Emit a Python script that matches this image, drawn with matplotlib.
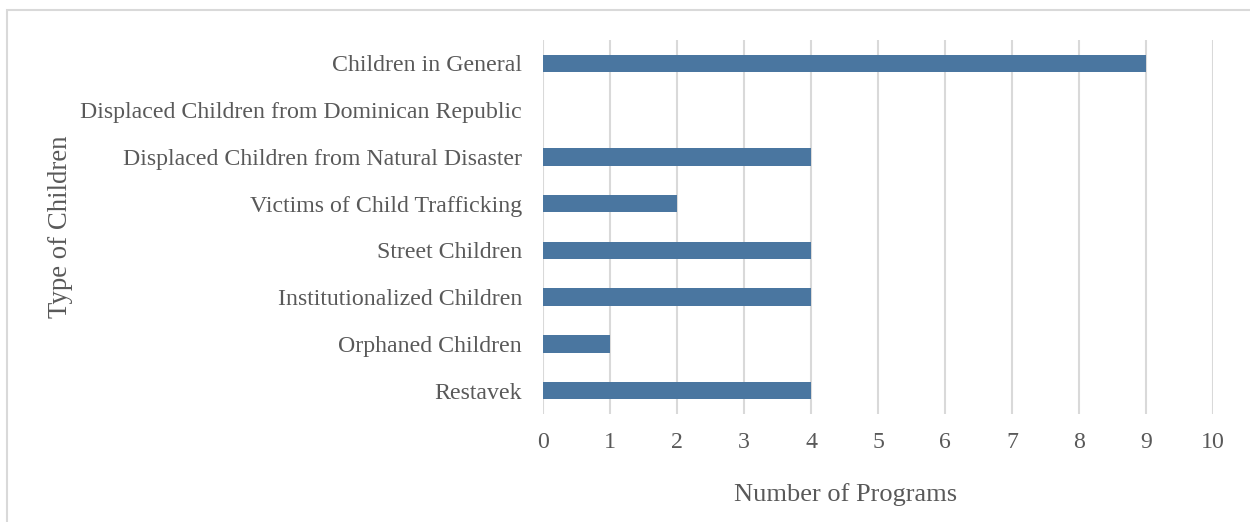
import matplotlib
matplotlib.use("Agg")
import matplotlib.pyplot as plt
from matplotlib.patches import Rectangle

categories = ["Children in General", "Displaced Children from Dominican Republic",
              "Displaced Children from Natural Disaster", "Victims of Child Trafficking",
              "Street Children", "Institutionalized Children", "Orphaned Children", "Restavek"]
values = [9, 0, 4, 2, 4, 4, 1, 4]
xticks = list(range(0, 11))

plt.rcParams['font.family'] = ['Liberation Serif', 'DejaVu Serif']

W, H = 1250, 522
fig = plt.figure(figsize=(W/100, H/100), dpi=100)
ax = fig.add_axes([543/W, 1-414/H, (1213-543)/W, (414-40)/H])

ypos = list(range(len(categories)))
ax.barh(ypos, values, height=0.37, color="#4a76a0", zorder=3)
ax.set_ylim(len(categories)-0.5, -0.5)
ax.set_xlim(0, 10)
ax.set_xticks(xticks)
ax.set_yticks(ypos)
ax.set_yticklabels(categories)
ax.grid(axis="x", color="#d9d9d9", linewidth=1.5, zorder=0)
ax.grid(axis="y", visible=False)
for s in ax.spines.values():
    s.set_visible(False)
ax.tick_params(axis="both", length=0, labelsize=17.2, labelcolor="#595959")
ax.tick_params(axis="x", pad=13)
ax.tick_params(axis="y", pad=15)
ax.set_xlabel("Number of Programs", fontsize=19, color="#595959")
ax.xaxis.set_label_coords((846-543)/(1213-543), -(495-414)/(414-40))
ax.xaxis.label.set_va("center")
ax.set_ylabel("Type of Children", fontsize=19.3, color="#595959")
ax.yaxis.set_label_coords((60-543)/(1213-543), 0.5)
ax.yaxis.label.set_va("center")

fig.patches.append(Rectangle((7/W, -0.1), 1.5, 1.1 - 10/H, transform=fig.transFigure,
                             fill=False, edgecolor="#d9d9d9", linewidth=1.5))

fig.savefig("out.png", dpi=100)
